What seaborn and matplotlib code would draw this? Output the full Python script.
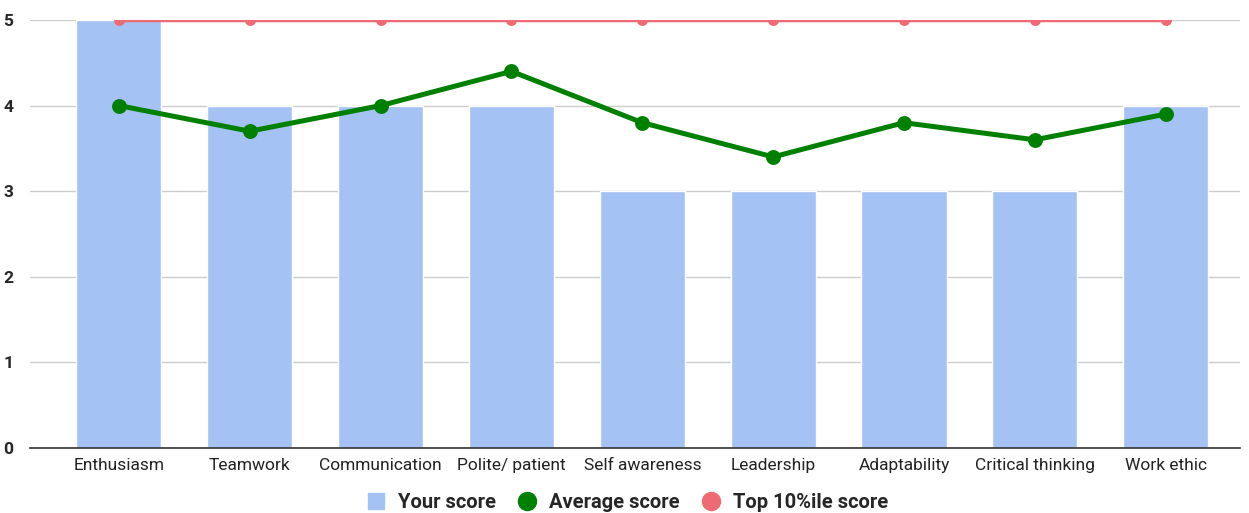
import numpy as np
import pandas as pd
import seaborn as sns
import matplotlib.pyplot as plt
from matplotlib.lines import Line2D

skills = ['Enthusiasm', 'Teamwork', 'Communication', 'Polite/ patient', 'Self awareness',
          'Leadership', 'Adaptability', 'Critical thinking', 'Work ethic']
your_score = [5, 4, 4, 4, 3, 3, 3, 3, 4]
average_score = [4.0, 3.7, 4.0, 4.4, 3.8, 3.4, 3.8, 3.6, 3.9]
top_score = [5, 5, 5, 5, 5, 5, 5, 5, 5]

BAR_COLOR = '#a4c2f4'
AVG_COLOR = '#008000'
TOP_COLOR = '#ef6b73'

df = pd.DataFrame({'skill': skills, 'your': your_score,
                   'avg': average_score, 'top': top_score})

sns.set_style('white')
plt.rcParams['font.family'] = ['Roboto', 'DejaVu Sans']

fig = plt.figure(figsize=(12.49, 5.13), dpi=100)
ax = fig.add_axes([0.024, 0.127, 0.969, 0.834])

sns.barplot(data=df, x='skill', y='your', color=BAR_COLOR, width=0.65,
            saturation=1, ax=ax, zorder=2)
sns.pointplot(data=df, x='skill', y='top', color=TOP_COLOR, ax=ax,
              markersize=6, linewidth=2.5)
sns.pointplot(data=df, x='skill', y='avg', color=AVG_COLOR, ax=ax,
              markersize=8, linewidth=3.6)

ax.set_ylim(0, 5)
ax.set_xlim(-0.68, 8.57)
ax.set_yticks(range(0, 6))
ax.yaxis.grid(True, color='#cccccc', linewidth=1)
ax.set_axisbelow(True)
for s in ['top', 'right', 'left']:
    ax.spines[s].set_visible(False)
ax.spines['bottom'].set_color('#333333')
ax.spines['bottom'].set_linewidth(1.2)
ax.tick_params(axis='both', length=0)
ax.tick_params(axis='x', labelsize=12.5, colors='#222222', pad=7)
ax.tick_params(axis='y', labelsize=12.5, pad=12)
for lbl in ax.get_yticklabels():
    lbl.set_fontweight('bold')
ax.set_xlabel('')
ax.set_ylabel('')

handles = [
    Line2D([], [], marker='s', linestyle='', color=BAR_COLOR, markersize=12),
    Line2D([], [], marker='o', linestyle='', color=AVG_COLOR, markersize=13),
    Line2D([], [], marker='o', linestyle='', color=TOP_COLOR, markersize=13),
]
fig.legend(handles, ['Your score', 'Average score', 'Top 10%ile score'],
           loc='lower center', bbox_to_anchor=(0.5, -0.033), ncol=3, frameon=False,
           prop={'weight': 'bold', 'size': 14.5}, handletextpad=0.35,
           handlelength=1.5, columnspacing=0.8)

plt.savefig('out.png', dpi=100)
